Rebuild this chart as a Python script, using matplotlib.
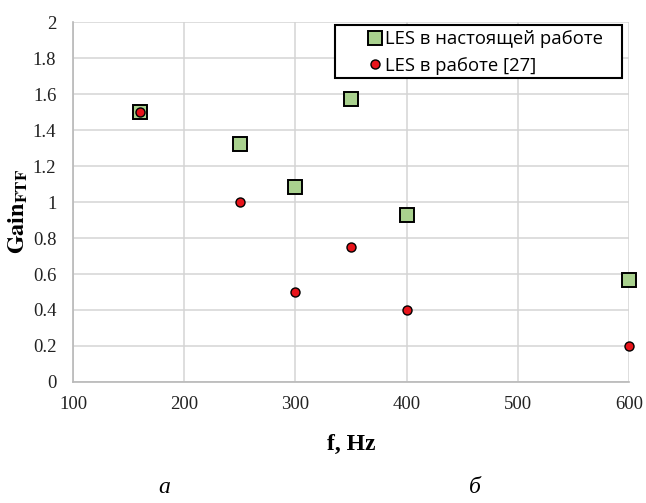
import matplotlib
matplotlib.use("Agg")
import matplotlib.pyplot as plt
from matplotlib.patches import Rectangle

# data
freq = [160, 250, 300, 350, 400, 600]
gain_present = [1.50, 1.32, 1.085, 1.575, 0.93, 0.565]
gain_ref27 = [1.50, 1.00, 0.50, 0.75, 0.40, 0.20]
label_present = "LES в настоящей работе"
label_ref27 = "LES в работе [27]"

plt.rcParams["mathtext.fontset"] = "stix"
serif = ["Liberation Serif", "DejaVu Serif"]

fig = plt.figure(figsize=(6.46, 5.03), dpi=100)
ax = fig.add_axes([0.113, 0.2406, 0.861, 0.7155])

ax.plot(freq, gain_present, ls="none", marker="s", ms=10, mfc="#a9d18e",
        mec="black", mew=1.4, label=label_present, zorder=3, clip_on=False)
ax.plot(freq, gain_ref27, ls="none", marker="o", ms=6.5, mfc="#e8141b",
        mec="black", mew=1.0, label=label_ref27, zorder=4, clip_on=False)

ax.set_xlim(100, 600)
ax.set_ylim(0, 2)
ax.set_xticks(range(100, 601, 100))
ax.set_yticks([i * 0.2 for i in range(11)])
ax.set_yticklabels(["0", "0.2", "0.4", "0.6", "0.8", "1", "1.2", "1.4", "1.6", "1.8", "2"])
ax.grid(True, color="#d4d4d4", lw=1.1)
ax.set_axisbelow(True)
for s in ["top", "right"]:
    ax.spines[s].set_visible(False)
for s in ["left", "bottom"]:
    ax.spines[s].set_color("#b8b8b8")
    ax.spines[s].set_linewidth(1.2)
ax.tick_params(length=0, labelsize=13.5, colors="#222222")
ax.tick_params(axis="x", pad=10)
ax.tick_params(axis="y", pad=12)
for t in ax.get_xticklabels() + ax.get_yticklabels():
    t.set_family(serif)

ax.set_xlabel("f, Hz", family=serif, fontweight="bold", fontsize=17, labelpad=15)
ax.set_ylabel(r"$\mathbf{Gain_{FTF}}$", fontsize=17.5)
ax.yaxis.set_label_coords(-0.078, 0.475)

# Excel-style legend box (wider left margin than matplotlib's frame allows)
ax.add_patch(Rectangle((0.471, 0.844), 0.516, 0.148, transform=ax.transAxes,
                       fc="white", ec="black", lw=1.5, zorder=5, clip_on=False))
leg = ax.legend(loc="upper right", bbox_to_anchor=(0.962, 0.99), frameon=False,
                borderpad=0.25, handletextpad=0.05, labelspacing=0.45,
                handlelength=1.0, borderaxespad=0,
                prop={"family": ["Open Sans", "DejaVu Sans"], "size": 13.3})
leg.set_zorder(6)

fig.text(0.255, 0.02, "а", family=serif, style="italic", fontsize=17, ha="center")
fig.text(0.735, 0.02, "б", family=serif, style="italic", fontsize=17, ha="center")

fig.savefig("out.png", dpi=100)
